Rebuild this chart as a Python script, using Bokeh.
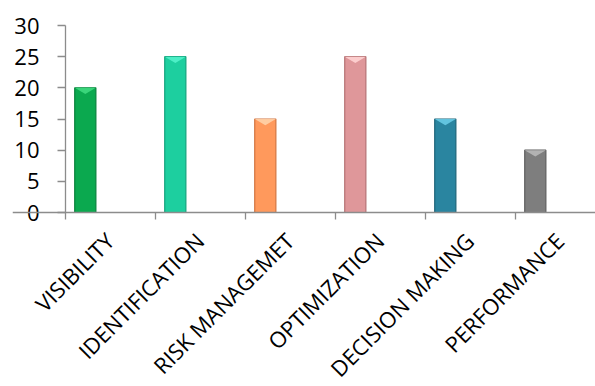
import math
from bokeh.plotting import figure
from bokeh.models import FixedTicker, ColumnDataSource, Range1d, LinearAxis
from bokeh.core.properties import value
from bokeh.embed import file_html
from bokeh.resources import INLINE

# Survey categories and scores
categories = ["VISIBILITY", "IDENTIFICATION", "RISK MANAGEMET",
              "OPTIMIZATION", "DECISION MAKING", "PERFORMANCE"]
scores = [20, 25, 15, 25, 15, 10]
y_ticks = [0, 5, 10, 15, 20, 25, 30]
y_tick_labels = ["0", "5", "10", "15", "20", "25", "30"]

bar_colors = ["#0BA94F", "#1DCF9F", "#FF995C", "#DF979A", "#2A85A0", "#7E7E7E"]
edge_colors = ["#08803B", "#14A27C", "#D27540", "#B57274", "#1E6479", "#5E5E5E"]
cap_colors = ["#3ED97E", "#52F2CA", "#FFD2A8", "#FFD3D3", "#68CBE6", "#B8B8B8"]

AXIS_GRAY = "#8C8C8C"
FONT = "Open Sans"

n = len(categories)
centers = list(range(n))
bounds = [c - 0.5 for c in centers]
x0 = bounds[0]
bar_x = [c - 0.28 for c in centers]
bar_w = 0.235
cap_h = 1.0

# geometry: value axis at x=65 px, 90 px per category, 0..30 spans 187 px from y=25 px
W, H, TOP, AXIS_X, PANEL_L, PANEL_T = 595, 386, 25, 65, 12, 4
px_per_cat = 90
px_per_unit = 187 / 30
x_lo = x0 - (AXIS_X - PANEL_L) / px_per_cat
x_hi = x0 + (W - AXIS_X) / px_per_cat
y_lo = -(H - TOP - 187) / px_per_unit
y_hi = 30 + (TOP - PANEL_T) / px_per_unit

p = figure(width=W, height=H, output_backend="svg", toolbar_location=None,
           x_range=Range1d(x_lo, x_hi), y_range=Range1d(y_lo, y_hi),
           x_axis_location=None, y_axis_location=None,
           min_border_left=PANEL_L, min_border_right=0, min_border_top=PANEL_T,
           min_border_bottom=0)
p.outline_line_color = None
p.background_fill_color = "white"
p.border_fill_color = "white"
p.xgrid.visible = False
p.ygrid.visible = False

src = ColumnDataSource(dict(x=bar_x, top=scores, fill=bar_colors, edge=edge_colors))
p.vbar(x="x", top="top", bottom=0, width=bar_w, source=src,
       fill_color="fill", line_color="edge", line_width=1.2)

# bevelled cap on each bar
xs = [[x - bar_w / 2, x + bar_w / 2, x] for x in bar_x]
ys = [[v, v, v - cap_h] for v in scores]
p.patches(xs, ys, fill_color=cap_colors, line_color=None, fill_alpha=0.9)

# value axis pinned at the first category edge, drawn only over 0..30
ya = LinearAxis(fixed_location=x0, bounds=(0, 30))
ya.ticker = FixedTicker(ticks=[], minor_ticks=y_ticks)
ya.axis_line_color = AXIS_GRAY
ya.axis_line_width = 1.3
ya.major_tick_line_color = None
ya.minor_tick_line_color = AXIS_GRAY
ya.minor_tick_line_width = 1.3
ya.minor_tick_out = 8
ya.minor_tick_in = 0
ya.major_label_standoff = 0
p.add_layout(ya, "left")

p.text(x=[x0] * len(y_ticks), y=y_ticks, text=y_tick_labels,
       text_align="right", text_baseline="middle", x_offset=-26,
       text_font=value(FONT), text_font_size="22px", text_color="#000000")

# category axis line pinned at zero, tick marks between categories pointing down
xa = LinearAxis(fixed_location=0)
xa.ticker = FixedTicker(ticks=[], minor_ticks=bounds)
xa.axis_line_color = AXIS_GRAY
xa.axis_line_width = 1.3
xa.major_tick_line_color = None
xa.minor_tick_line_color = AXIS_GRAY
xa.minor_tick_line_width = 1.3
xa.minor_tick_out = 0
xa.minor_tick_in = 7
xa.major_label_standoff = 0
p.add_layout(xa, "above")

# slanted category names, right end under each category centre
p.text(x=centers, y=[0] * n, text=categories, angle=math.pi / 4,
       text_align="right", text_baseline="middle", x_offset=-1, y_offset=24,
       text_font=value(FONT), text_font_size="22px", text_color="#000000")

open("out.html", "w").write(file_html(p, INLINE))
